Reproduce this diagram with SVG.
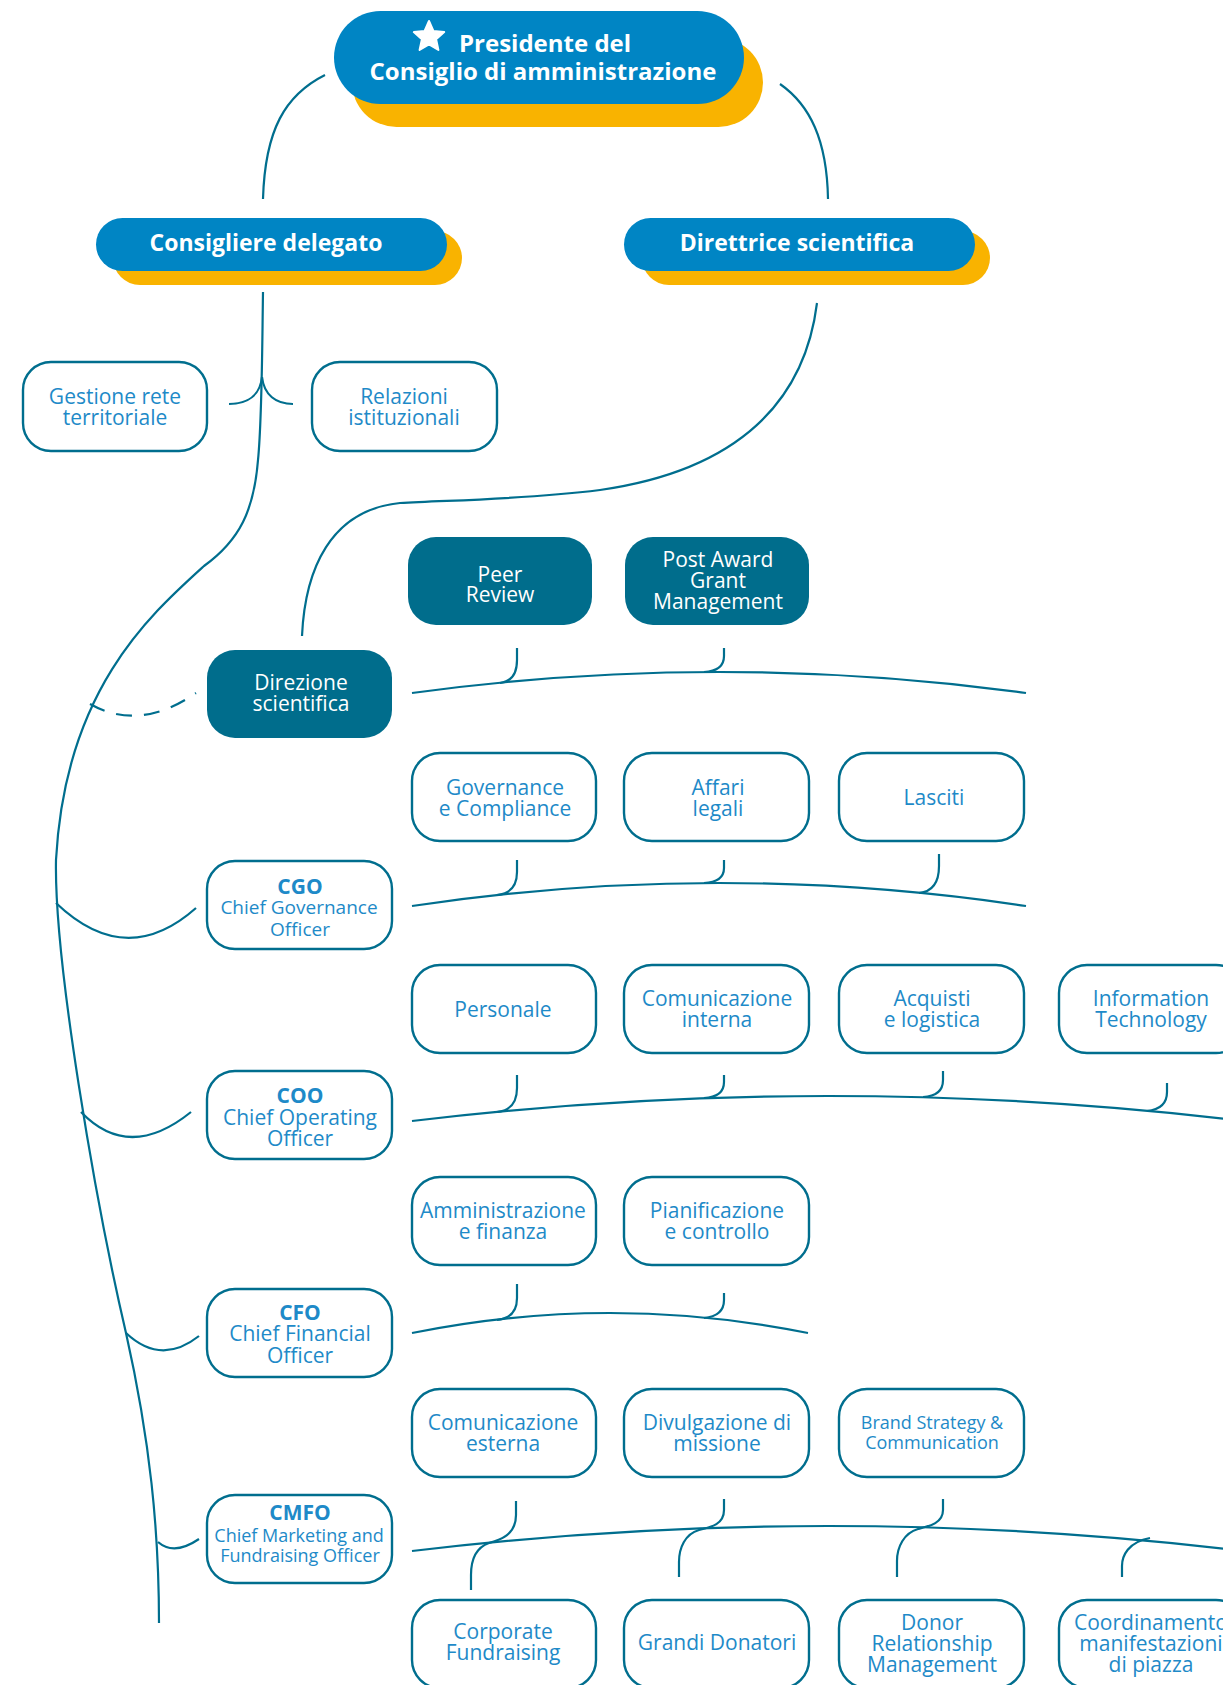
<svg xmlns="http://www.w3.org/2000/svg" width="1223" height="1685" viewBox="0 0 1223 1685">
<style>
.bg{fill:#ffffff}
.yel{fill:#f9b300}
.blue{fill:#0085c4}
.box{fill:#ffffff;stroke:#006e8e;stroke-width:2.4}
.dbox{fill:#006d8c}
.ln{fill:none;stroke:#006e8e;stroke-width:2.2;stroke-linecap:butt}
.dash{stroke-dasharray:16 12}
text{font-family:"Open Sans","Noto Sans","Liberation Sans",sans-serif;text-anchor:middle}
.t{font-size:21px;fill:#1e8ac8}
.ts{font-size:18px;fill:#1e8ac8}
.tg{font-size:19px;fill:#1e8ac8}
.tb{font-size:21px;fill:#1e8ac8;font-weight:bold}
.tw{font-size:21px;fill:#ffffff}
.hw{font-size:24px;fill:#ffffff;font-weight:bold}
.hw2{font-size:23px;fill:#ffffff;font-weight:bold}
</style>
<rect class="bg" x="0" y="0" width="1223" height="1685"/>

<g id="connectors">
  <path class="ln" d="M325,75 C285,95 265,130 263,199"/>
  <path class="ln" d="M780,84 C810,105 827,140 828,199"/>
  <path class="ln" d="M817,303 C805,400 740,470 600,490 C520,500 450,500 400,503 C330,510 305,570 302,636"/>
  <path class="ln" d="M263,292 C262,360 262,420 258,460 C254,510 240,540 204,566 C150,615 65,690 56,860 C54,960 95,1200 126,1333 C150,1440 159,1530 159,1623"/>
  <path class="ln" d="M262,377 C260,395 248,404 229,404"/>
  <path class="ln" d="M262,377 C264,395 276,404 293,404"/>
  <path class="ln dash" d="M90,704 Q140,732 196,693"/>
  <path class="ln" d="M56,903 Q126,970 196,908"/>
  <path class="ln" d="M81,1112 Q129,1162 191,1112"/>
  <path class="ln" d="M126,1333 Q161,1366 199,1336"/>
  <path class="ln" d="M158,1542 Q174,1556 199,1539"/>
  <path class="ln" d="M412,693 Q719,651 1026,693"/>
  <path class="ln" d="M517,648 L517,660 Q517,681 500,683"/>
  <path class="ln" d="M724,648 L724,656 Q724,671 704,672"/>
  <path class="ln" d="M412,906 Q719,860 1026,906"/>
  <path class="ln" d="M517,860 L517,872 Q517,893 497,895"/>
  <path class="ln" d="M724,860 L724,868 Q724,882 704,883"/>
  <path class="ln" d="M939,854 L939,866 Q939,891 919,893"/>
  <path class="ln" d="M412,1121 Q828,1071 1244,1121"/>
  <path class="ln" d="M517,1075 L517,1088 Q517,1110 497,1112"/>
  <path class="ln" d="M724,1075 L724,1082 Q724,1097 704,1098"/>
  <path class="ln" d="M943,1071 L943,1080 Q943,1096 923,1097"/>
  <path class="ln" d="M1167,1083 L1167,1092 Q1167,1109 1147,1111"/>
  <path class="ln" d="M412,1333 Q610,1293 808,1333"/>
  <path class="ln" d="M517,1284 L517,1298 Q517,1318 497,1320"/>
  <path class="ln" d="M724,1293 L724,1300 Q724,1316 704,1318"/>
  <path class="ln" d="M412,1551 Q828,1501 1244,1551"/>
  <path class="ln" d="M516,1501 L516,1515 C516,1535 500,1540 489,1543 C475,1548 471,1560 471,1575 L471,1590"/>
  <path class="ln" d="M724,1499 L724,1510 C724,1524 712,1527 699,1530 C685,1534 679,1548 679,1562 L679,1577"/>
  <path class="ln" d="M943,1499 L943,1510 C943,1523 930,1526 918,1529 C904,1533 897,1547 897,1561 L897,1577"/>
  <path class="ln" d="M1150,1538 C1128,1542 1122,1556 1122,1566 L1122,1577"/>
</g>

<g id="presidente">
  <rect class="yel" x="352" y="38" width="411" height="89" rx="44.5"/>
  <rect class="blue" x="334" y="11" width="410" height="93" rx="46.5"/>
  <polygon points="429,21 433.4,30.9 444.2,32.1 436.1,39.3 438.4,49.9 429,44.5 419.6,49.9 421.9,39.3 413.8,32.1 424.6,30.9" fill="#ffffff" stroke="#ffffff" stroke-width="2" stroke-linejoin="round"/>
  <text class="hw" x="459" y="52" style="text-anchor:start">Presidente del</text>
  <text class="hw" x="543" y="80">Consiglio di amministrazione</text>
</g>

<g id="consigliere">
  <rect class="yel" x="113" y="231" width="349" height="54" rx="27"/>
  <rect class="blue" x="96" y="218" width="351" height="53" rx="26.5"/>
  <text class="hw2" x="266" y="251">Consigliere delegato</text>
</g>

<g id="direttrice">
  <rect class="yel" x="642" y="231" width="348" height="54" rx="27"/>
  <rect class="blue" x="624" y="218" width="351" height="53" rx="26.5"/>
  <text class="hw2" x="797" y="251">Direttrice scientifica</text>
</g>

<g id="gestione">
  <rect class="box" x="23" y="362" width="184" height="89" rx="28"/>
  <text class="t" x="115" y="404">Gestione rete</text>
  <text class="t" x="115" y="425">territoriale</text>
</g>

<g id="relazioni">
  <rect class="box" x="312" y="362" width="185" height="89" rx="28"/>
  <text class="t" x="404" y="404">Relazioni</text>
  <text class="t" x="404" y="425">istituzionali</text>
</g>

<g id="peer">
  <rect class="dbox" x="408" y="537" width="184" height="88" rx="28"/>
  <text class="tw" x="500" y="581.5">Peer</text>
  <text class="tw" x="500" y="602">Review</text>
</g>

<g id="postaward">
  <rect class="dbox" x="625" y="537" width="184" height="88" rx="28"/>
  <text class="tw" x="718" y="566.5">Post Award</text>
  <text class="tw" x="718" y="588">Grant</text>
  <text class="tw" x="718" y="609">Management</text>
</g>

<g id="direzione">
  <rect class="dbox" x="207" y="650" width="185" height="88" rx="28"/>
  <text class="tw" x="301" y="689.5">Direzione</text>
  <text class="tw" x="301" y="711">scientifica</text>
</g>

<g id="governance">
  <rect class="box" x="412" y="753" width="184" height="88" rx="28"/>
  <text class="t" x="505" y="794.5">Governance</text>
  <text class="t" x="505" y="815.5">e Compliance</text>
</g>

<g id="affari">
  <rect class="box" x="624" y="753" width="185" height="88" rx="28"/>
  <text class="t" x="718" y="794.5">Affari</text>
  <text class="t" x="718" y="815.5">legali</text>
</g>

<g id="lasciti">
  <rect class="box" x="839" y="753" width="185" height="88" rx="28"/>
  <text class="t" x="934" y="804.5">Lasciti</text>
</g>

<g id="cgo">
  <rect class="box" x="207" y="861" width="185" height="88" rx="28"/>
  <text class="tb" x="300" y="893.5">CGO</text>
  <text class="tg" x="299" y="914">Chief Governance</text>
  <text class="tg" x="300" y="935.5">Officer</text>
</g>

<g id="personale">
  <rect class="box" x="412" y="965" width="184" height="88" rx="28"/>
  <text class="t" x="503" y="1016.5">Personale</text>
</g>

<g id="cominterna">
  <rect class="box" x="624" y="965" width="185" height="88" rx="28"/>
  <text class="t" x="717" y="1005.5">Comunicazione</text>
  <text class="t" x="717" y="1026.5">interna</text>
</g>

<g id="acquisti">
  <rect class="box" x="839" y="965" width="185" height="88" rx="28"/>
  <text class="t" x="932" y="1005.5">Acquisti</text>
  <text class="t" x="932" y="1026.5">e logistica</text>
</g>

<g id="it">
  <rect class="box" x="1059" y="965" width="185" height="88" rx="28"/>
  <text class="t" x="1151" y="1005.5">Information</text>
  <text class="t" x="1151" y="1026.5">Technology</text>
</g>

<g id="coo">
  <rect class="box" x="207" y="1071" width="185" height="88" rx="28"/>
  <text class="tb" x="300" y="1102.5">COO</text>
  <text class="t" x="300" y="1124.5">Chief Operating</text>
  <text class="t" x="300" y="1145.5">Officer</text>
</g>

<g id="amministrazione">
  <rect class="box" x="412" y="1177" width="184" height="88" rx="28"/>
  <text class="t" x="503" y="1217.5">Amministrazione</text>
  <text class="t" x="503" y="1239">e finanza</text>
</g>

<g id="pianificazione">
  <rect class="box" x="624" y="1177" width="185" height="88" rx="28"/>
  <text class="t" x="717" y="1217.5">Pianificazione</text>
  <text class="t" x="717" y="1239">e controllo</text>
</g>

<g id="cfo">
  <rect class="box" x="207" y="1289" width="185" height="88" rx="28"/>
  <text class="tb" x="300" y="1319.5">CFO</text>
  <text class="t" x="300" y="1341">Chief Financial</text>
  <text class="t" x="300" y="1362.5">Officer</text>
</g>

<g id="comesterna">
  <rect class="box" x="412" y="1389" width="184" height="88" rx="28"/>
  <text class="t" x="503" y="1429.5">Comunicazione</text>
  <text class="t" x="503" y="1450.5">esterna</text>
</g>

<g id="divulgazione">
  <rect class="box" x="624" y="1389" width="185" height="88" rx="28"/>
  <text class="t" x="717" y="1429.5">Divulgazione di</text>
  <text class="t" x="717" y="1450.5">missione</text>
</g>

<g id="brand">
  <rect class="box" x="839" y="1389" width="185" height="88" rx="28"/>
  <text class="ts" x="932" y="1428.5">Brand Strategy &amp;</text>
  <text class="ts" x="932" y="1448.5">Communication</text>
</g>

<g id="cmfo">
  <rect class="box" x="207" y="1495" width="185" height="88" rx="28"/>
  <text class="tb" x="300" y="1519.5">CMFO</text>
  <text class="ts" x="299" y="1541.5">Chief Marketing and</text>
  <text class="ts" x="300" y="1561.5">Fundraising Officer</text>
</g>

<g id="corporate">
  <rect class="box" x="412" y="1600" width="184" height="88" rx="28"/>
  <text class="t" x="503" y="1638.5">Corporate</text>
  <text class="t" x="503" y="1660">Fundraising</text>
</g>

<g id="grandi">
  <rect class="box" x="624" y="1600" width="185" height="88" rx="28"/>
  <text class="t" x="717" y="1649.5">Grandi Donatori</text>
</g>

<g id="donor">
  <rect class="box" x="839" y="1600" width="185" height="88" rx="28"/>
  <text class="t" x="932" y="1629.5">Donor</text>
  <text class="t" x="932" y="1650.5">Relationship</text>
  <text class="t" x="932" y="1672">Management</text>
</g>

<g id="coordinamento">
  <rect class="box" x="1059" y="1600" width="185" height="88" rx="28"/>
  <text class="t" x="1151" y="1629.5">Coordinamento</text>
  <text class="t" x="1151" y="1650.5">manifestazioni</text>
  <text class="t" x="1151" y="1672">di piazza</text>
</g>
</svg>
